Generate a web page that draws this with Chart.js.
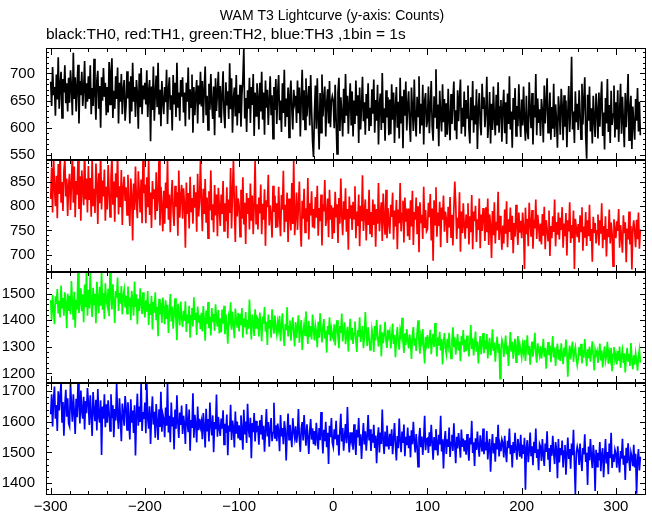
<!DOCTYPE html>
<html>
<head>
<meta charset="utf-8">
<script src="https://cdn.jsdelivr.net/npm/chart.js@4.4.1/dist/chart.umd.min.js"></script>
<style>
  html, body { margin: 0; padding: 0; background: #fff; }
</style>
</head>
<body>
<canvas id="lc" width="652" height="515"></canvas>
<script>
// WAM T3 lightcurve, 1 s bins starting at t = -300 s
const tStart = -300;

// TH0 (black)
const th0 = [
685,640,712,660,675,622,698,652,730,635,678,703,618,690,665,715,645,682,630,692,
646,706,673,623,738,653,693,630,678,716,608,686,660,703,640,670,723,635,682,648,
695,653,715,625,673,640,727,660,615,687,705,635,677,600,693,650,710,657,683,623,
675,628,721,643,703,728,618,668,635,695,653,711,608,683,648,699,625,671,688,613,
642,704,654,685,608,695,630,720,648,675,620,688,663,598,700,638,710,625,678,652,
683,643,706,620,668,688,575,676,633,713,613,663,696,638,720,626,670,603,686,650,
625,675,647,707,607,670,693,633,660,595,697,643,683,620,720,637,665,613,688,657,
693,628,665,603,683,648,711,615,671,638,698,591,675,623,661,688,608,678,643,703,
639,686,609,671,713,623,659,596,681,633,699,646,616,676,586,691,631,666,703,619,
677,609,659,704,627,599,684,641,667,616,719,634,691,591,654,674,621,697,604,661,
627,679,602,662,687,745,617,655,592,669,635,692,609,675,642,699,585,665,622,682,
655,597,683,630,703,615,665,587,687,637,670,605,650,695,623,660,580,675,633,690,
607,664,697,614,650,592,682,627,707,602,654,620,674,582,660,687,634,597,670,647,
659,609,687,627,674,584,654,707,614,669,597,691,621,649,677,604,697,631,575,546,
626,678,598,691,616,560,664,591,698,621,654,676,584,644,671,608,686,601,648,658,
649,599,679,616,552,664,692,594,656,626,584,672,609,699,622,659,589,644,682,604,
667,584,650,607,687,622,660,572,674,597,640,694,612,647,587,662,617,682,594,637,
603,671,626,689,591,651,613,679,569,643,663,596,701,609,636,576,669,619,656,586,
652,588,680,615,665,572,638,675,600,648,580,692,608,658,562,670,622,685,595,640,
667,609,574,674,634,594,689,617,584,657,621,695,589,644,604,679,569,649,664,601,
613,676,590,640,686,603,576,658,620,708,598,643,566,668,623,593,680,610,653,583,
645,587,672,615,577,662,607,649,685,595,632,579,669,612,655,689,589,637,602,667,
584,651,618,678,598,571,656,614,686,591,641,606,671,561,634,664,608,586,681,636,
656,601,631,694,581,611,666,571,644,596,676,618,586,661,604,684,591,638,651,574,
637,670,590,647,570,663,607,695,597,630,563,655,615,673,585,640,603,680,620,583,
652,604,676,612,576,659,594,579,684,632,599,664,569,642,619,699,586,654,609,634,
585,653,631,573,678,608,645,691,591,618,665,578,638,598,681,583,643,613,563,658,
632,587,672,640,577,660,602,650,564,627,677,592,637,731,597,630,572,667,610,644,
596,669,626,579,681,606,651,693,586,543,661,613,676,593,636,571,659,616,583,663,
632,580,665,602,650,685,585,628,560,655,608,690,592,642,572,668,605,625,678,582,
647,597,669,574,629,681,589,657,611,564,664,601,644,699,577,634,659,561,639,607,
578,653,613,673,593,648,586
];

// TH1 (red)
const th1 = [
815,880,787,905,840,800,863,775,887,825,920,807,850,790,873,897,820,857,780,843,
867,792,844,910,807,882,777,852,824,897,794,862,770,874,837,802,922,814,857,787,
883,813,858,778,900,800,836,786,888,846,763,868,806,913,793,853,820,876,770,840,
793,885,833,778,858,903,803,851,768,868,818,911,783,841,798,875,761,838,861,811,
839,782,865,802,759,857,822,729,847,792,882,809,775,872,829,787,855,765,899,827,
845,765,860,798,898,782,828,755,852,815,835,772,870,790,818,900,760,840,800,748,
832,764,849,796,896,772,824,746,816,854,786,759,842,799,829,739,874,776,819,844,
774,837,804,714,849,784,827,754,861,789,817,764,844,797,829,747,867,779,809,896,
811,748,836,784,856,766,818,734,831,791,874,771,804,746,844,781,824,738,838,798,
759,824,784,852,749,806,769,839,734,814,786,879,754,829,896,799,726,842,779,816,
802,737,834,774,860,762,807,722,827,784,817,752,847,770,822,742,800,896,764,804,
752,818,785,845,742,805,772,835,718,812,798,865,760,802,780,735,842,788,822,755,
806,756,840,778,738,823,793,873,746,803,768,828,726,816,783,750,848,763,896,740,
778,828,751,801,851,758,716,811,774,836,746,796,768,858,731,806,781,831,756,794,
754,819,776,842,739,796,769,824,719,804,789,854,759,779,816,736,834,772,802,732,
797,744,830,777,804,724,817,764,857,780,740,810,772,837,747,794,710,820,774,802,
751,809,774,841,734,789,759,824,717,801,769,864,749,784,814,729,794,761,834,744,
788,736,814,761,804,716,794,764,848,748,781,808,728,826,771,741,834,734,796,768,
743,803,778,828,731,791,758,813,711,793,765,848,748,785,811,725,818,768,795,738,
795,730,812,758,832,720,788,772,818,742,800,705,808,765,782,732,840,755,792,748,
752,807,777,825,729,795,687,812,762,839,737,787,759,809,715,797,772,822,747,789,
774,724,799,756,819,736,782,719,794,851,804,732,776,754,829,706,789,744,806,759,
733,783,756,806,721,779,746,823,711,789,769,801,726,773,751,816,713,783,749,796,
776,728,798,746,816,720,783,760,693,790,740,808,723,768,750,830,730,780,753,710,
760,723,793,743,810,715,773,747,797,730,780,703,765,737,803,757,720,787,745,770,
734,787,757,670,797,742,774,717,807,764,737,792,712,772,754,814,732,782,760,727,
764,721,784,739,799,711,771,754,729,791,697,759,734,779,747,814,717,767,741,787,
731,776,751,798,714,764,738,786,698,771,748,808,724,761,734,791,670,774,754,736,
763,725,781,748,798,708,758,735,788,718,771,738,803,728,753,685,778,745,765,723,
749,783,719,771,743,806,713,759,731,779,696,753,736,793,723,766,744,676,773,751,
734,769,749,794,714,761,737,704,781,744,767,684,754,731,789,721,759,669,751,771,
747,715,772,732,787,712,752
];

// TH2 (green)
const th2 = [
1475,1400,1495,1440,1385,1490,1460,1517,1425,1473,1410,1530,1447,1483,1417,1505,1465,1370,1500,1435,
1492,1422,1547,1457,1402,1507,1372,1477,1440,1583,1427,1470,1520,1434,1497,1392,1534,1450,1583,1417,
1514,1444,1583,1464,1412,1522,1459,1499,1389,1544,1479,1426,1526,1454,1583,1439,1502,1404,1539,1476,
1455,1518,1415,1583,1495,1440,1535,1470,1390,1510,1485,1560,1435,1502,1462,1528,1422,1492,1515,1448,
1493,1425,1527,1453,1485,1400,1510,1470,1417,1545,1450,1497,1385,1480,1435,1520,1460,1423,1505,1447,
1410,1475,1432,1510,1382,1462,1420,1492,1365,1468,1428,1505,1400,1450,1340,1480,1422,1465,1390,1485,
1445,1385,1475,1405,1458,1352,1432,1498,1395,1450,1368,1425,1482,1400,1325,1462,1428,1380,1470,1410,
1374,1434,1398,1471,1356,1421,1388,1454,1334,1416,1446,1376,1486,1401,1428,1344,1451,1391,1418,1366,
1428,1358,1453,1400,1323,1436,1386,1468,1370,1413,1343,1446,1393,1423,1360,1460,1406,1376,1438,1350,
1407,1354,1440,1387,1454,1347,1422,1377,1312,1414,1397,1467,1364,1432,1382,1332,1444,1400,1372,1427,
1358,1424,1381,1446,1334,1406,1374,1431,1346,1401,1368,1478,1388,1328,1421,1394,1341,1441,1371,1411,
1404,1339,1429,1381,1321,1414,1387,1449,1357,1394,1307,1421,1369,1401,1334,1441,1384,1349,1417,1371,
1346,1393,1366,1416,1321,1381,1426,1351,1303,1386,1363,1449,1339,1376,1399,1323,1373,1411,1353,1301,
1393,1333,1375,1418,1315,1368,1401,1288,1355,1385,1343,1433,1361,1311,1398,1338,1378,1328,1421,1365,
1324,1381,1358,1298,1394,1334,1426,1364,1316,1374,1404,1331,1361,1278,1378,1346,1411,1321,1368,1341,
1330,1385,1305,1368,1400,1338,1295,1378,1352,1425,1320,1360,1392,1310,1345,1375,1282,1358,1405,1325,
1371,1311,1351,1395,1325,1281,1363,1338,1411,1318,1348,1378,1295,1335,1431,1355,1303,1373,1333,1288,
1308,1366,1341,1281,1378,1324,1401,1344,1301,1331,1384,1264,1354,1314,1346,1394,1321,1296,1364,1338,
1357,1294,1337,1387,1311,1344,1261,1331,1374,1317,1289,1361,1339,1409,1321,1277,1351,1307,1367,1324,
1294,1347,1320,1254,1342,1374,1304,1332,1284,1354,1400,1314,1274,1340,1317,1367,1297,1237,1337,1310,
1344,1294,1324,1364,1272,1319,1349,1299,1389,1322,1264,1336,1304,1356,1286,1329,1234,1316,1352,1296,
1273,1330,1303,1353,1290,1256,1323,1373,1298,1336,1270,1313,1348,1286,1320,1246,1340,1306,1363,1280,
1327,1284,1342,1304,1264,1317,1382,1292,1332,1267,1310,1357,1282,1320,1237,1300,1340,1272,1314,1352,
1276,1324,1291,1348,1256,1306,1334,1268,1298,1366,1284,1316,1244,1301,1338,1278,1311,1180,1288,1326,
1310,1262,1300,1342,1272,1305,1228,1292,1355,1282,1320,1255,1300,1330,1242,1295,1340,1268,1308,1285,
1260,1307,1280,1325,1247,1295,1343,1270,1303,1233,1290,1320,1263,1300,1353,1277,1240,1313,1287,1267,
1302,1255,1285,1330,1262,1295,1218,1282,1318,1268,1305,1242,1290,1340,1260,1298,1228,1282,1312,1252,
1290,1247,1313,1270,1235,1297,1263,1327,1280,1188,1270,1305,1253,1290,1320,1243,1283,1300,1257,1230,
1254,1299,1267,1311,1237,1287,1259,1329,1274,1227,1291,1257,1301,1244,1279,1321,1264,1211,1289,1271,
1284,1239,1274,1312,1249,1286,1222,1269,1302,1246,1266,1319,1236,1279,1254,1296,1208,1272,1299,1252,
1271,1234,1284,1248,1301,1221,1266,1288,1238,1276,1204,1261,1296,1244,1274,1228,1314,1254,1216,1268,
1233,1276,1250,1210,1263,1290,1240
];

// TH3 (blue)
const th3 = [
1625,1690,1585,1670,1715,1610,1655,1570,1700,1637,1683,1726,1600,1665,1555,1650,1705,1617,1677,1595,
1585,1726,1655,1600,1690,1630,1560,1675,1615,1726,1660,1595,1702,1635,1610,1682,1575,1668,1628,1710,
1662,1590,1687,1622,1554,1697,1637,1602,1672,1572,1707,1617,1597,1670,1492,1650,1610,1690,1582,1657,
1597,1670,1630,1570,1690,1612,1654,1550,1642,1604,1726,1617,1577,1677,1610,1537,1660,1627,1587,1684,
1647,1574,1664,1607,1542,1674,1597,1637,1564,1654,1490,1622,1692,1587,1650,1600,1726,1570,1632,1610,
1663,1563,1726,1613,1578,1651,1528,1621,1683,1591,1633,1548,1658,1598,1541,1641,1583,1698,1568,1625,
1610,1550,1647,1587,1726,1565,1620,1533,1663,1585,1615,1510,1640,1577,1687,1597,1547,1630,1590,1653,
1560,1620,1590,1528,1658,1598,1566,1640,1506,1606,1580,1693,1548,1623,1593,1533,1650,1573,1610,1583,
1601,1543,1629,1583,1516,1643,1569,1609,1536,1663,1589,1556,1621,1501,1599,1576,1689,1551,1616,1579,
1554,1611,1578,1638,1526,1594,1564,1624,1491,1588,1568,1656,1541,1604,1581,1516,1634,1561,1601,1546,
1589,1543,1621,1573,1509,1639,1559,1601,1531,1659,1576,1549,1613,1481,1596,1566,1629,1536,1603,1573,
1579,1525,1605,1559,1622,1542,1587,1502,1572,1642,1552,1599,1519,1577,1612,1537,1565,1662,1545,1589,
1537,1594,1567,1504,1622,1552,1580,1527,1602,1574,1474,1564,1627,1542,1590,1557,1517,1612,1570,1547,
1585,1532,1559,1642,1545,1502,1577,1599,1539,1622,1565,1522,1592,1552,1495,1569,1609,1542,1579,1527,
1570,1522,1597,1547,1510,1580,1540,1632,1557,1497,1574,1537,1600,1517,1564,1462,1587,1550,1612,1532,
1518,1576,1543,1603,1526,1558,1490,1570,1626,1536,1580,1506,1553,1593,1530,1648,1550,1500,1566,1540,
1566,1509,1592,1536,1492,1574,1549,1612,1522,1559,1479,1546,1596,1526,1569,1506,1554,1622,1539,1576,
1505,1560,1532,1590,1515,1555,1465,1545,1582,1500,1565,1528,1640,1538,1495,1568,1522,1588,1542,1510,
1561,1521,1576,1494,1544,1596,1526,1474,1554,1514,1611,1538,1501,1568,1531,1591,1488,1551,1524,1581,
1514,1554,1484,1572,1527,1600,1537,1500,1560,1522,1454,1547,1580,1517,1552,1492,1540,1620,1507,1544,
1546,1498,1566,1520,1590,1533,1476,1550,1510,1576,1530,1490,1558,1526,1620,1503,1543,1448,1538,1570,
1495,1543,1518,1581,1485,1533,1558,1505,1595,1525,1465,1551,1513,1563,1528,1483,1575,1518,1545,1503,
1540,1493,1560,1513,1473,1548,1526,1603,1498,1533,1456,1546,1508,1568,1520,1486,1556,1528,1503,1578,
1494,1534,1507,1570,1477,1524,1544,1437,1514,1560,1497,1530,1470,1550,1510,1590,1487,1524,1504,1542,
1531,1484,1554,1504,1468,1538,1514,1578,1494,1524,1451,1534,1498,1564,1508,1476,1544,1518,1486,1558,
1480,1525,1495,1548,1378,1515,1540,1468,1505,1565,1488,1520,1458,1535,1498,1578,1482,1510,1442,1528,
1519,1472,1544,1492,1456,1529,1502,1569,1479,1514,1436,1524,1489,1554,1499,1462,1534,1509,1416,1544,
1467,1514,1491,1539,1451,1504,1524,1427,1494,1549,1479,1511,1447,1529,1491,1574,1469,1364,1499,1519,
1504,1459,1529,1479,1439,1514,1494,1559,1469,1499,1394,1519,1474,1544,1486,1449,1524,1489,1374,1509,
1454,1499,1474,1534,1439,1491,1514,1419,1484,1544,1464,1501,1429,1529,1481,1564,1449,1494,1469,1509,
1495,1450,1520,1470,1435,1505,1480,1545,1460,1490,1410,1515,1465,1530,1477,1440,1500,1485,1455,1525,
1451,1496,1365,1473,1511,1441,1486
];

const times = th0.map((_, i) => tStart + i);

// x axis range and tick steps (seconds)
const xMin = -305, xMax = 332, xMajor = 100, xMinor = 20;

// panels listed bottom to top: Chart.js stacks later left axes above earlier ones
const panels = [
  { id: 'y3', name: 'TH3', values: th3, color: '#0000ff', min: 1361, max: 1726, major: 100, minor: 20 },
  { id: 'y2', name: 'TH2', values: th2, color: '#00ff00', min: 1163, max: 1583, major: 100, minor: 20 },
  { id: 'y1', name: 'TH1', values: th1, color: '#ff0000', min: 665, max: 896, major: 50, minor: 10 },
  { id: 'y0', name: 'TH0', values: th0, color: '#000000', min: 541, max: 747, major: 50, minor: 10 }
];

const FONT = '"Liberation Sans", Arial, Helvetica, sans-serif';
const fmt = v => (v < 0 ? '\u2212' + Math.abs(v) : String(v));

// y axes are narrow so the title centres like the original; let their labels
// spill to the canvas edge instead of being clipped to the axis box
const wideLabels = {
  id: 'wideLabels',
  afterLayout(chart) {
    panels.forEach(p => { chart.scales[p.id].left = 0; });
  }
};

// keep each curve inside its own panel
const panelClip = {
  id: 'panelClip',
  beforeDatasetDraw(chart, args) {
    const ys = chart.scales[args.meta.yAxisID];
    const xs = chart.scales.x;
    chart.ctx.save();
    chart.ctx.beginPath();
    chart.ctx.rect(xs.left, ys.top, xs.right - xs.left, ys.bottom - ys.top);
    chart.ctx.clip();
  },
  afterDatasetDraw(chart) {
    chart.ctx.restore();
  }
};

// boxed panels with inward major/minor ticks on all four sides
const frameTicks = {
  id: 'frameTicks',
  afterDatasetsDraw(chart) {
    const ctx = chart.ctx;
    const xs = chart.scales.x;
    const L = Math.round(xs.left), R = Math.round(xs.right);
    ctx.save();
    ctx.strokeStyle = '#000';
    ctx.lineWidth = 1;
    panels.forEach(p => {
      const ys = chart.scales[p.id];
      const T = Math.round(ys.top), B = Math.round(ys.bottom);
      ctx.strokeRect(L + 0.5, T + 0.5, R - L - 1, B - T - 1);
      ctx.beginPath();
      for (let v = Math.ceil(xMin / xMinor) * xMinor; v <= xMax; v += xMinor) {
        const px = Math.round(xs.getPixelForValue(v)) + 0.5;
        const len = v % xMajor === 0 ? 7 : 4;
        ctx.moveTo(px, T); ctx.lineTo(px, T + len);
        ctx.moveTo(px, B); ctx.lineTo(px, B - len);
      }
      for (let v = Math.ceil(p.min / p.minor) * p.minor; v <= p.max; v += p.minor) {
        const py = Math.round(ys.getPixelForValue(v)) + 0.5;
        const len = v % p.major === 0 ? 6 : 3;
        ctx.moveTo(L, py); ctx.lineTo(L + len, py);
        ctx.moveTo(R, py); ctx.lineTo(R - len, py);
      }
      ctx.stroke();
    });
    ctx.restore();
  }
};

const scales = {
  x: {
    type: 'linear',
    min: xMin,
    max: xMax,
    grid: { display: false, drawTicks: false },
    border: { display: false },
    ticks: {
      stepSize: xMajor, includeBounds: false, autoSkip: false, maxRotation: 0,
      padding: 3, color: '#000', font: { family: FONT, size: 15 }, callback: fmt
    },
    afterFit: s => { s.height = 19; }
  }
};
panels.forEach(p => {
  scales[p.id] = {
    type: 'linear',
    position: 'left',
    stack: 'lc',
    stackWeight: 1,
    min: p.min,
    max: p.max,
    grid: { display: false, drawTicks: false },
    border: { display: false },
    ticks: {
      stepSize: p.major, includeBounds: false, autoSkip: false,
      padding: 11, color: '#000', font: { family: FONT, size: 15 }, callback: fmt
    },
    afterFit: s => { s.width = 28; }
  };
});

new Chart(document.getElementById('lc'), {
  type: 'line',
  data: {
    datasets: panels.map(p => ({
      label: p.name,
      data: p.values.map((y, i) => ({ x: times[i], y: y })),
      yAxisID: p.id,
      borderColor: p.color,
      borderWidth: 1.7,
      pointRadius: 0,
      tension: 0,
      fill: false
    }))
  },
  options: {
    responsive: false,
    animation: false,
    devicePixelRatio: 1,
    events: [],
    layout: { padding: { left: 18, right: 6, top: 0, bottom: 0 } },
    scales: scales,
    plugins: {
      legend: { display: false },
      tooltip: { enabled: false },
      title: {
        display: true,
        text: 'WAM T3 Lightcurve (y-axis: Counts)',
        color: '#000',
        font: { family: FONT, size: 14, weight: 'normal' },
        padding: { top: 8, bottom: 1 }
      },
      subtitle: {
        display: true,
        text: 'black:TH0, red:TH1, green:TH2, blue:TH3 ,1bin = 1s',
        align: 'start',
        fullSize: false,
        color: '#000',
        font: { family: FONT, size: 15.5, weight: 'normal' },
        padding: { top: 0, bottom: 3.6 }
      }
    }
  },
  plugins: [wideLabels, panelClip, frameTicks]
});
</script>
</body>
</html>
